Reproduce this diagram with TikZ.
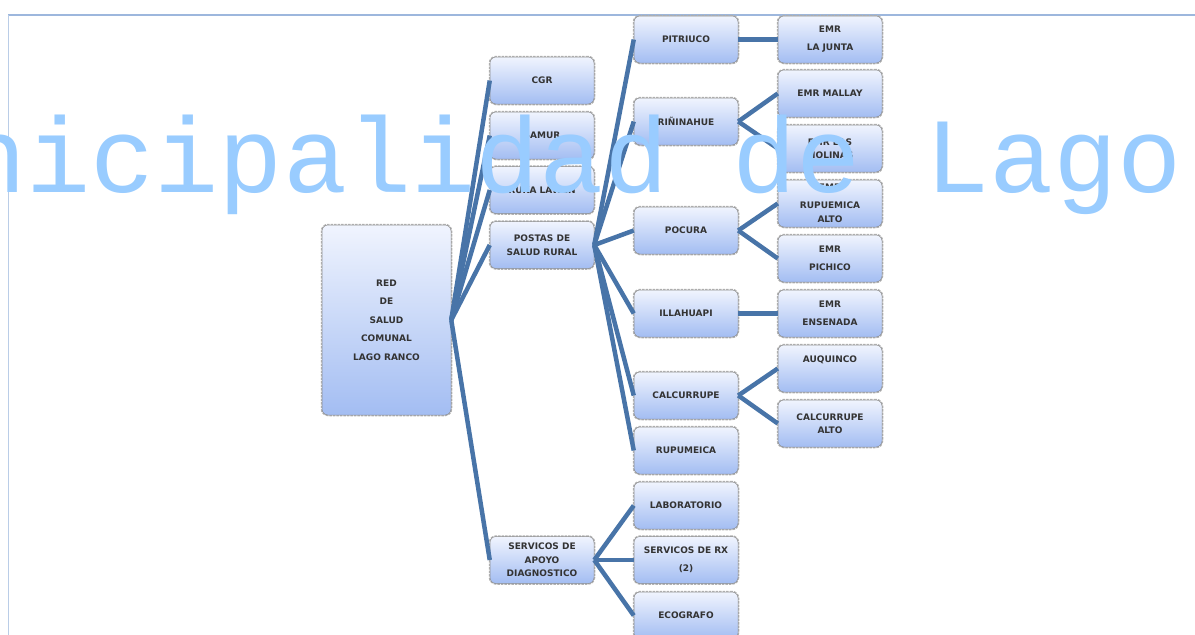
\documentclass[tikz,border=0pt]{standalone}
\usepackage{fontspec}
\setmainfont{DejaVu Sans}
\newfontfamily\wmfont{Liberation Mono}
\usetikzlibrary{positioning}

\definecolor{boxtop}{RGB}{240,244,254}
\definecolor{boxbot}{RGB}{163,189,242}
\definecolor{linkcol}{RGB}{72,116,168}
\definecolor{framecol}{RGB}{157,183,221}
\definecolor{wmcol}{RGB}{153,204,255}

\tikzset{
	unitbox/.style={rectangle, rounded corners=6pt, inner sep=0pt,
		minimum width=104pt, minimum height=47pt,
		top color=boxtop, bottom color=boxbot,
		draw=black!45, line width=0.5pt,
		preaction={draw=black!30, densely dotted, line width=2.5pt},
		align=center, text=black!80,
		font=\fontsize{9}{13.5}\selectfont\bfseries},
}

\begin{document}
\begin{tikzpicture}[x=1pt,y=-1pt]
		\useasboundingbox (0,0) rectangle (1195,635);
		% marco
		\draw[framecol, line width=2pt] (8,15) -- (1195,15);
		\draw[framecol!70, line width=1pt] (8,15) -- (8,635);

		\begin{scope}[every node/.style={unitbox}]
			\node[minimum width=129pt, minimum height=190pt,
				font=\fontsize{9}{18.5}\selectfont\bfseries] (red) at (386.5,320)
				{RED\\DE\\SALUD\\COMUNAL\\LAGO RANCO};
			% segundo nivel
			\node (cgr) at (542,80.5) {CGR};
			\node (samur) at (542,135.5) {SAMUR};
			\node (ruka) at (542,190) {RUKA LAWEN};
			\node (postas) at (542,245) {POSTAS DE\\SALUD RURAL};
			\node (apoyo) at (542,560) {SERVICOS DE\\APOYO\\DIAGNOSTICO};
			% postas
			\node (pitriuco) at (686,39.5) {PITRIUCO};
			\node (rinina) at (686,121.5) {RIÑINAHUE};
			\node (pocura) at (686,230.5) {POCURA};
			\node (illa) at (686,313.5) {ILLAHUAPI};
			\node (calcu) at (686,395.5) {CALCURRUPE};
			\node (rupu) at (686,450.5) {RUPUMEICA};
			% apoyo diagnostico
			\node (lab) at (686,505.5) {LABORATORIO};
			\node (rx) at (686,560) {SERVICOS DE RX\\[4.5pt](2)};
			\node (eco) at (686,615.5) {ECOGRAFO};
			% estaciones medico rurales
			\node (junta) at (830,39.5) {EMR\\[4.5pt]LA JUNTA};
			\node (mallay) at (830,93.5) {EMR MALLAY};
			\node (molinas) at (830,148.5) {EMR LAS\\MOLINAS};
			\node (rupualto) at (830,203.5) {EMR\\[4.5pt]RUPUEMICA\\ALTO};
			\node (pichico) at (830,258.5) {EMR\\[4.5pt]PICHICO};
			\node (ensenada) at (830,313.5) {EMR\\[4.5pt]ENSENADA};
			\node (auqui) at (830,368.5) {AUQUINCO\\[4.5pt]\mbox{}};
			\node (calcualto) at (830,423.5) {CALCURRUPE\\ALTO};
		\end{scope}

		\begin{scope}[every edge/.style={draw, linkcol, line width=4.5pt}]
			\path (red.east) edge (cgr.west);
			\path (red.east) edge (samur.west);
			\path (red.east) edge (ruka.west);
			\path (red.east) edge (postas.west);
			\path (red.east) edge (apoyo.west);
			\path (postas.east) edge (pitriuco.west);
			\path (postas.east) edge (rinina.west);
			\path (postas.east) edge (pocura.west);
			\path (postas.east) edge (illa.west);
			\path (postas.east) edge (calcu.west);
			\path (postas.east) edge (rupu.west);
			\path (apoyo.east) edge (lab.west);
			\path (apoyo.east) edge (rx.west);
			\path (apoyo.east) edge (eco.west);
			\path (pitriuco.east) edge (junta.west);
			\path (rinina.east) edge (mallay.west);
			\path (rinina.east) edge (molinas.west);
			\path (pocura.east) edge (rupualto.west);
			\path (pocura.east) edge (pichico.west);
			\path (illa.east) edge (ensenada.west);
			\path (calcu.east) edge (auqui.west);
			\path (calcu.east) edge (calcualto.west);
		\end{scope}

		% marca de agua
		\node[anchor=base west, inner sep=0pt, text=wmcol,
			font=\wmfont\fontsize{107}{107}\selectfont] (wmark) at (-38,192)
			{nicipalidad de Lago};
	\end{tikzpicture}
\end{document}
